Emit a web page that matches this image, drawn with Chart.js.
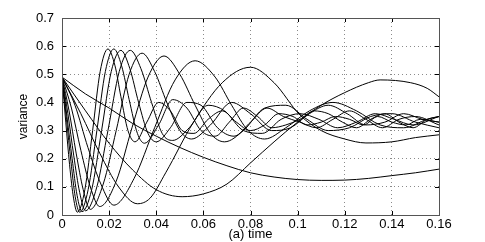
<!DOCTYPE html>
<html>
<head>
<meta charset="utf-8">
<script src="https://cdn.jsdelivr.net/npm/chart.js@4.4.1/dist/chart.umd.min.js"></script>
<style>
  html, body { margin: 0; padding: 0; background: #fff; }
  #chart { display: block; }
</style>
</head>
<body>
<canvas id="chart" width="485" height="242"></canvas>
<script>
// ------------------------------------------------------------
// donnees : [temps, variance]
// ------------------------------------------------------------
const xTicks = [0, 0.02, 0.04, 0.06, 0.08, 0.1, 0.12, 0.14, 0.16];
const yTicks = [0, 0.1, 0.2, 0.3, 0.4, 0.5, 0.6, 0.7];

const curveA = [[0,0.49],[0.0016,0.33],[0.0032,0.18],[0.0049,0.06],[0.0065,0.01],[0.0097,0.09],[0.013,0.30],[0.0162,0.51],[0.0195,0.59],[0.0225,0.53],[0.025,0.42],[0.028,0.30],[0.031,0.26],[0.036,0.33],[0.041,0.40],[0.046,0.37],[0.051,0.30],[0.056,0.29],[0.062,0.34],[0.068,0.37],[0.074,0.33],[0.08,0.30],[0.086,0.32],[0.092,0.36],[0.098,0.35],[0.104,0.32],[0.11,0.33],[0.116,0.35],[0.122,0.34],[0.128,0.32],[0.134,0.35],[0.14,0.33],[0.146,0.32],[0.152,0.34],[0.16,0.33]];
const curveB = [[0,0.49],[0.0019,0.34],[0.0038,0.19],[0.0056,0.065],[0.0075,0.01],[0.0111,0.09],[0.0148,0.30],[0.0184,0.51],[0.022,0.59],[0.0253,0.53],[0.0285,0.41],[0.032,0.29],[0.035,0.255],[0.041,0.32],[0.047,0.41],[0.053,0.38],[0.059,0.30],[0.065,0.28],[0.071,0.33],[0.077,0.38],[0.083,0.35],[0.089,0.31],[0.095,0.32],[0.101,0.34],[0.107,0.37],[0.113,0.36],[0.119,0.33],[0.125,0.31],[0.131,0.34],[0.137,0.36],[0.143,0.33],[0.149,0.31],[0.155,0.34],[0.16,0.35]];
const curveC = [[0,0.49],[0.0021,0.35],[0.0043,0.20],[0.0064,0.07],[0.0085,0.012],[0.0126,0.09],[0.0168,0.30],[0.0209,0.51],[0.025,0.585],[0.0288,0.52],[0.0325,0.40],[0.0365,0.29],[0.04,0.26],[0.046,0.31],[0.053,0.40],[0.059,0.39],[0.066,0.31],[0.073,0.28],[0.08,0.33],[0.087,0.38],[0.094,0.35],[0.101,0.33],[0.108,0.31],[0.115,0.34],[0.122,0.37],[0.129,0.34],[0.136,0.31],[0.143,0.34],[0.15,0.35],[0.16,0.32]];
const curveD = [[0,0.49],[0.0025,0.36],[0.005,0.21],[0.0075,0.08],[0.010,0.015],[0.0148,0.10],[0.0195,0.30],[0.0243,0.51],[0.029,0.585],[0.0335,0.52],[0.038,0.40],[0.0425,0.29],[0.047,0.265],[0.054,0.31],[0.062,0.39],[0.069,0.37],[0.077,0.30],[0.085,0.29],[0.093,0.34],[0.101,0.36],[0.109,0.34],[0.117,0.31],[0.125,0.33],[0.133,0.36],[0.141,0.34],[0.149,0.32],[0.16,0.35]];
const curveE = [[0,0.49],[0.003,0.37],[0.006,0.22],[0.009,0.09],[0.012,0.02],[0.0175,0.11],[0.023,0.30],[0.0285,0.50],[0.034,0.575],[0.0393,0.51],[0.0445,0.40],[0.05,0.30],[0.055,0.27],[0.063,0.32],[0.072,0.40],[0.08,0.36],[0.089,0.30],[0.097,0.31],[0.105,0.36],[0.113,0.39],[0.121,0.36],[0.129,0.32],[0.137,0.33],[0.145,0.36],[0.153,0.34],[0.16,0.33]];
const curveF = [[0,0.49],[0.004,0.38],[0.008,0.23],[0.012,0.10],[0.016,0.03],[0.023,0.12],[0.0297,0.31],[0.0365,0.49],[0.0433,0.565],[0.05,0.50],[0.0565,0.39],[0.063,0.29],[0.069,0.26],[0.077,0.30],[0.086,0.38],[0.095,0.39],[0.104,0.34],[0.113,0.30],[0.122,0.31],[0.131,0.35],[0.14,0.36],[0.15,0.33],[0.16,0.31]];
const curveG = [[0,0.49],[0.0055,0.39],[0.011,0.24],[0.0165,0.11],[0.022,0.035],[0.0306,0.13],[0.0393,0.31],[0.048,0.48],[0.0565,0.548],[0.065,0.49],[0.072,0.39],[0.079,0.30],[0.086,0.27],[0.095,0.31],[0.105,0.37],[0.115,0.40],[0.125,0.37],[0.135,0.32],[0.145,0.31],[0.155,0.34],[0.16,0.35]];
const curveH = [[0,0.49],[0.008,0.36],[0.016,0.22],[0.024,0.10],[0.032,0.04],[0.0374,0.06],[0.044,0.15],[0.0556,0.327],[0.068,0.47],[0.08,0.525],[0.09,0.47],[0.101,0.355],[0.11,0.30],[0.12,0.27],[0.129,0.256],[0.14,0.26],[0.15,0.275],[0.16,0.285]];
const curveI = [[0,0.49],[0.01,0.37],[0.02,0.255],[0.03,0.16],[0.04,0.09],[0.051,0.065],[0.06,0.075],[0.07,0.11],[0.08,0.185],[0.09,0.26],[0.1,0.33],[0.11,0.39],[0.12,0.435],[0.13,0.47],[0.135,0.48],[0.148,0.47],[0.155,0.45],[0.16,0.42]];
const curveJ = [[0,0.49],[0.01,0.43],[0.02,0.38],[0.03,0.325],[0.04,0.28],[0.05,0.24],[0.06,0.205],[0.07,0.175],[0.08,0.15],[0.09,0.135],[0.1,0.126],[0.11,0.123],[0.12,0.124],[0.13,0.13],[0.14,0.14],[0.15,0.15],[0.16,0.163]];

const curves = [curveA, curveB, curveC, curveD, curveE, curveF, curveG, curveH, curveI, curveJ];

const tickFont = { family: "Liberation Sans, Arial, sans-serif", size: 13 };

// ------------------------------------------------------------
// cadre + petites graduations vers l'interieur (style matlab)
// ------------------------------------------------------------
const boxPlugin = {
    id: "boxPlugin",
    afterDatasetsDraw(chart) {
        const { ctx, chartArea: a, scales } = chart;
        ctx.save();
        ctx.strokeStyle = "#000";
        ctx.lineWidth = 1;
        ctx.beginPath();
        xTicks.forEach(v => {
            const px = Math.round(scales.x.getPixelForValue(v)) + 0.5;
            ctx.moveTo(px, a.bottom); ctx.lineTo(px, a.bottom - 4);
            ctx.moveTo(px, a.top); ctx.lineTo(px, a.top + 4);
        });
        yTicks.forEach(v => {
            const py = Math.round(scales.y.getPixelForValue(v)) + 0.5;
            ctx.moveTo(a.left, py); ctx.lineTo(a.left + 4, py);
            ctx.moveTo(a.right, py); ctx.lineTo(a.right - 4, py);
        });
        ctx.stroke();
        ctx.strokeStyle = "#555";
        ctx.strokeRect(Math.round(a.left) + 0.5, Math.round(a.top) + 0.5,
            Math.round(a.right - a.left), Math.round(a.bottom - a.top));
        ctx.restore();
    }
};

const ctx = document.getElementById("chart").getContext("2d");

new Chart(ctx, {
    type: "line",
    data: {
        datasets: curves.map(c => ({
            data: c.map(p => ({ x: p[0], y: p[1] })),
            borderColor: "#000",
            borderWidth: 1,
            pointRadius: 0,
            fill: false,
            cubicInterpolationMode: "monotone"
        }))
    },
    options: {
        responsive: false,
        animation: false,
        events: [],
        layout: { padding: { top: 18, right: 46, bottom: 0, left: 0 } },
        plugins: {
            legend: { display: false },
            tooltip: { enabled: false }
        },
        scales: {
            x: {
                type: "linear",
                min: 0,
                max: 0.16,
                afterBuildTicks: s => { s.ticks = xTicks.map(v => ({ value: v })); },
                afterFit: s => { s.height = 27; },
                grid: { color: "#8a8a8a", lineWidth: 1, drawTicks: false },
                border: { display: false, dash: [1, 3] },
                ticks: {
                    padding: 2,
                    color: "#000",
                    font: tickFont,
                    maxRotation: 0,
                    callback: v => String(+v.toFixed(2))
                },
                title: {
                    display: true,
                    text: "(a) time",
                    color: "#000",
                    padding: { top: 0, bottom: 0 },
                    font: { family: "Liberation Sans, Arial, sans-serif", size: 13 }
                }
            },
            y: {
                min: 0,
                max: 0.7,
                afterBuildTicks: s => { s.ticks = yTicks.map(v => ({ value: v })); },
                afterFit: s => { s.width = 62; },
                grid: { color: "#8a8a8a", lineWidth: 1, drawTicks: false },
                border: { display: false, dash: [1, 3] },
                ticks: {
                    padding: 8,
                    color: "#000",
                    font: tickFont,
                    callback: v => String(+v.toFixed(1))
                },
                title: {
                    display: true,
                    text: "variance",
                    color: "#000",
                    padding: { top: 16, bottom: 0 },
                    font: { family: "Liberation Sans Narrow, Liberation Sans, Arial, sans-serif", size: 12 }
                }
            }
        }
    },
    plugins: [boxPlugin]
});
</script>
</body>
</html>
